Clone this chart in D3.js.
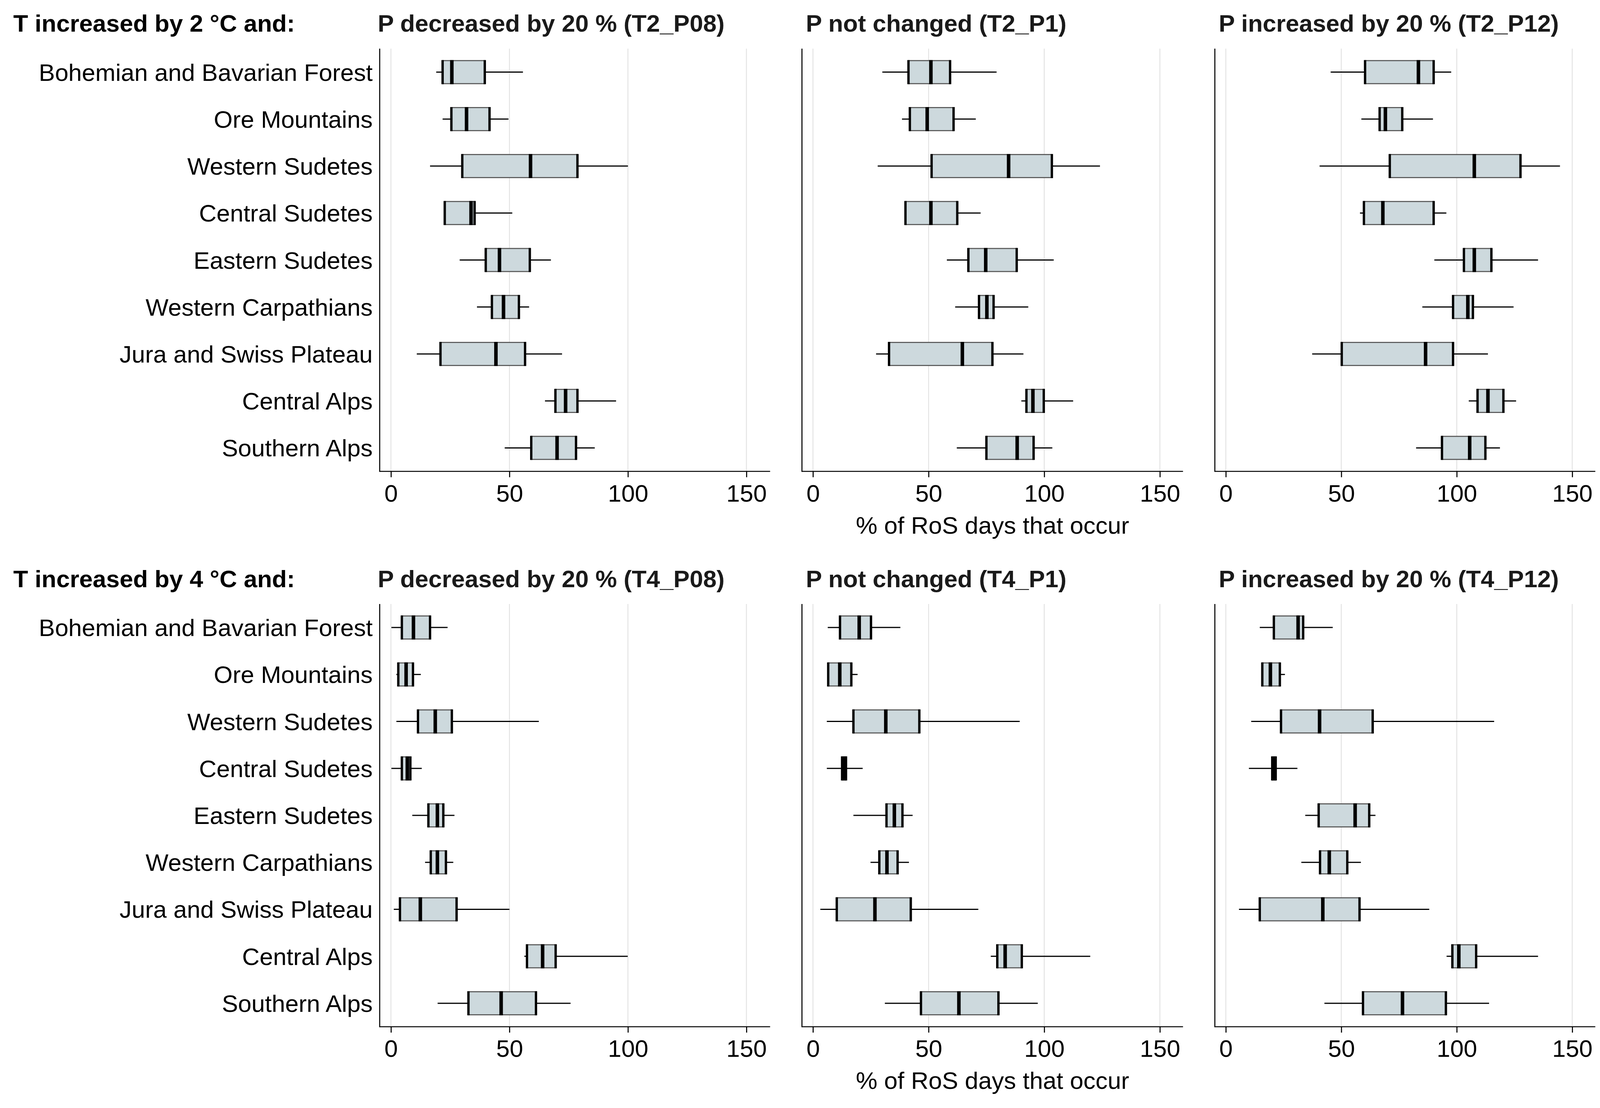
<!DOCTYPE html>
<html>
<head>
<meta charset="utf-8">
<script src="https://cdn.jsdelivr.net/npm/d3@7/dist/d3.min.js"></script>
<style>
  html, body { margin: 0; padding: 0; background: #ffffff; }
  svg { display: block; }
  text { font-family: "Liberation Sans", Arial, sans-serif; }
</style>
</head>
<body>
<script>
// ---------------- DATA ----------------
const categories = [
  "Bohemian and Bavarian Forest", "Ore Mountains", "Western Sudetes",
  "Central Sudetes", "Eastern Sudetes", "Western Carpathians",
  "Jura and Swiss Plateau", "Central Alps", "Southern Alps"
];
const xTicks = [0, 50, 100, 150];
const rowHeaders = ["T increased by 2 °C and:", "T increased by 4 °C and:"];
const panelTitles = [
  ["P decreased by 20 % (T2_P08)", "P not changed (T2_P1)", "P increased by 20 % (T2_P12)"],
  ["P decreased by 20 % (T4_P08)", "P not changed (T4_P1)", "P increased by 20 % (T4_P12)"]
];
const xAxisTitle = "% of RoS days that occur";

// each row: [whisker low, Q1, median, Q3, whisker high], in category order
const T2_P08 = [
  [19.1, 21.8, 25.7, 39.6, 55.7],
  [21.8, 25.5, 31.9, 41.6, 49.6],
  [16.5, 30.1, 58.9, 78.7, 100.0],
  [22.7, 22.7, 33.8, 35.3, 51.2],
  [29.0, 40.0, 45.8, 58.6, 67.5],
  [36.3, 42.6, 47.5, 54.0, 58.3],
  [10.9, 20.9, 44.3, 56.6, 72.2],
  [65.0, 69.4, 73.7, 78.7, 95.0],
  [48.0, 59.2, 70.1, 78.1, 86.0]
];
const T2_P1 = [
  [30.0, 41.3, 51.0, 59.3, 79.4],
  [38.5, 41.9, 49.4, 60.8, 70.4],
  [28.0, 51.3, 84.6, 103.3, 124.1],
  [39.5, 40.0, 51.0, 62.4, 72.5],
  [57.9, 67.2, 74.7, 88.1, 104.1],
  [61.5, 71.8, 75.2, 78.1, 93.1],
  [27.3, 32.9, 64.6, 77.6, 91.0],
  [90.1, 92.3, 95.1, 99.8, 112.5],
  [62.2, 75.0, 88.3, 95.4, 103.5]
];
const T2_P12 = [
  [45.4, 60.3, 83.4, 90.0, 97.6],
  [58.7, 66.6, 69.1, 76.4, 89.7],
  [40.6, 71.0, 107.6, 127.6, 144.7],
  [58.1, 59.8, 68.0, 90.0, 95.5],
  [90.3, 103.1, 107.6, 115.0, 135.2],
  [85.1, 98.4, 104.8, 107.0, 124.6],
  [37.4, 50.2, 86.5, 98.4, 113.5],
  [105.2, 109.0, 113.5, 120.2, 125.7],
  [82.4, 93.6, 105.6, 112.4, 118.7]
];
const T4_P08 = [
  [0.2, 4.6, 9.5, 16.5, 23.9],
  [2.3, 3.1, 6.4, 9.3, 12.6],
  [2.3, 11.4, 18.7, 25.7, 62.4],
  [0.2, 4.6, 6.9, 8.2, 13.0],
  [9.0, 15.8, 19.6, 22.1, 26.8],
  [14.4, 16.8, 19.6, 23.2, 26.3],
  [1.2, 3.8, 12.4, 27.7, 50.0],
  [56.3, 57.4, 64.0, 69.5, 99.9],
  [19.7, 32.7, 46.5, 61.2, 75.8]
];
const T4_P1 = [
  [6.4, 11.7, 20.0, 25.1, 37.8],
  [6.4, 6.6, 11.6, 16.6, 19.3],
  [6.0, 17.5, 31.5, 46.0, 89.4],
  [6.0, 12.6, 13.5, 14.3, 21.5],
  [17.5, 31.8, 35.2, 38.7, 43.1],
  [24.9, 28.7, 32.0, 36.6, 41.5],
  [3.2, 10.3, 26.8, 42.3, 71.5],
  [76.9, 79.7, 83.1, 90.3, 119.9],
  [31.1, 46.7, 63.1, 80.2, 97.2]
];
const T4_P12 = [
  [14.7, 20.8, 31.3, 33.5, 46.3],
  [15.8, 15.8, 19.3, 23.4, 25.6],
  [11.0, 23.9, 40.6, 63.6, 116.2],
  [10.0, 20.1, 20.8, 21.6, 31.0],
  [34.4, 40.2, 56.0, 62.1, 64.8],
  [32.7, 40.8, 44.8, 52.6, 58.5],
  [5.7, 14.7, 42.0, 57.9, 88.1],
  [95.6, 98.1, 100.9, 108.4, 135.2],
  [42.7, 59.4, 76.5, 95.3, 114.0]
];
const panelData = [[T2_P08, T2_P1, T2_P12], [T4_P08, T4_P1, T4_P12]];

// ---------------- LAYOUT ----------------
const W = 4121, H = 2836;
const FONT = 62;
const xDomain = [-4.75, 160];
const colRanges = [[972, 1971.5], [2053, 3028.5], [3110, 4084]];
const titleX = [967, 2063, 3120];
const rowTop0 = 124.5, rowBottom0 = 1206.5, rowOffset = 1421.5;
const boxH = 59;
const fillCol = "#cdd9dd";

const svg = d3.select("body").append("svg")
  .attr("width", W).attr("height", H)
  .attr("viewBox", `0 0 ${W} ${H}`);
svg.append("rect").attr("width", W).attr("height", H).attr("fill", "#fff");

rowHeaders.forEach((hdr, r) => {
  const top = rowTop0 + r * rowOffset;
  const bottom = rowBottom0 + r * rowOffset;

  svg.append("text")
    .attr("x", 34).attr("y", 81 + r * rowOffset)
    .attr("font-size", FONT).attr("font-weight", "bold").attr("fill", "#000")
    .text(hdr);

  const y = d3.scaleBand().domain(categories).range([top, bottom]).padding(0);

  colRanges.forEach((cr, c) => {
    const x = d3.scaleLinear().domain(xDomain).range(cr);
    const g = svg.append("g");
    const data = panelData[r][c];

    // title
    g.append("text")
      .attr("x", titleX[c]).attr("y", 81 + r * rowOffset)
      .attr("font-size", FONT).attr("font-weight", "bold").attr("fill", "#1a1a1a")
      .text(panelTitles[r][c]);

    // gridlines
    g.selectAll(".grid").data(xTicks).enter().append("line")
      .attr("x1", d => x(d)).attr("x2", d => x(d))
      .attr("y1", top).attr("y2", bottom)
      .attr("stroke", "#e3e3e3").attr("stroke-width", 2.4);

    // x axis
    const axis = d3.axisBottom(x).tickValues(xTicks).tickSize(15).tickPadding(18)
      .tickFormat(d3.format("d"));
    const ag = g.append("g").attr("transform", `translate(0,${bottom})`).call(axis);
    ag.select(".domain").remove();
    ag.selectAll(".tick line").attr("stroke", "#000").attr("stroke-width", 2.7);
    ag.selectAll(".tick text")
      .attr("font-size", FONT).attr("fill", "#000")
      .attr("font-family", '"Liberation Sans", Arial, sans-serif');
    g.append("line").attr("x1", cr[0]).attr("x2", cr[1])
      .attr("y1", bottom).attr("y2", bottom)
      .attr("stroke", "#000").attr("stroke-width", 2.7);
    g.append("line").attr("x1", cr[0]).attr("x2", cr[0])
      .attr("y1", top).attr("y2", bottom + 1.35)
      .attr("stroke", "#000").attr("stroke-width", 2.7);

    // y labels for first column
    if (c === 0) {
      g.selectAll(".ylab").data(categories).enter().append("text")
        .attr("x", 954).attr("y", d => y(d) + y.bandwidth() / 2 + 22)
        .attr("text-anchor", "end").attr("font-size", FONT).attr("fill", "#000")
        .text(d => d);
    }

    // x axis title for middle column
    if (c === 1) {
      g.append("text")
        .attr("x", (cr[0] + cr[1]) / 2).attr("y", bottom + 159)
        .attr("text-anchor", "middle").attr("font-size", FONT).attr("fill", "#000")
        .text(xAxisTitle);
    }

    // boxes
    const boxes = g.selectAll(".box").data(data.map((v, i) => ({ cat: categories[i], v })))
      .enter().append("g");
    boxes.each(function(d) {
      const b = d3.select(this);
      const cy = y(d.cat) + y.bandwidth() / 2;
      const [lo, q1, med, q3, hi] = d.v;
      b.append("line").attr("x1", x(lo)).attr("x2", x(q1)).attr("y1", cy).attr("y2", cy)
        .attr("stroke", "#000").attr("stroke-width", 3);
      b.append("line").attr("x1", x(q3)).attr("x2", x(hi)).attr("y1", cy).attr("y2", cy)
        .attr("stroke", "#000").attr("stroke-width", 3);
      b.append("rect").attr("x", x(q1)).attr("width", Math.max(0, x(q3) - x(q1)))
        .attr("y", cy - boxH / 2).attr("height", boxH)
        .attr("fill", fillCol).attr("stroke", "#555").attr("stroke-width", 2.7);
      [[q1, 6], [q3, 6], [med, 9]].forEach(([val, sw]) => {
        b.append("line").attr("x1", x(val)).attr("x2", x(val))
          .attr("y1", cy - boxH / 2 - 1.35).attr("y2", cy + boxH / 2 + 1.35)
          .attr("stroke", "#000").attr("stroke-width", sw);
      });
    });
  });
});
</script>
</body>
</html>
